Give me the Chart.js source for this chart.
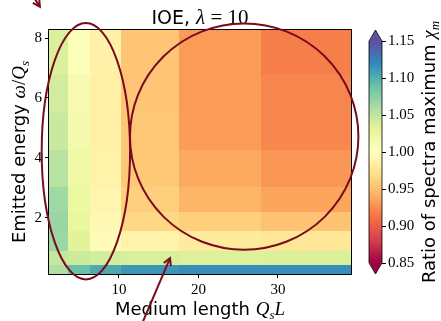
<!DOCTYPE html>
<html>
<head>
<meta charset="utf-8">
<script src="https://cdn.jsdelivr.net/npm/chart.js@4.4.1/dist/chart.umd.min.js"></script>
<style>
    html, body { margin: 0; padding: 0; background: #fff; }
    #wrap { width: 441px; height: 321px; }
</style>
</head>
<body>
<div id="wrap"><canvas id="ioeChart" width="441" height="321"></canvas></div>
<script>
// bin edges: medium length Q_s L (x) and emitted energy omega/Q_s (y)
const lengthEdges = [1.2, 3.6, 6.35, 10.2, 17.5, 27.9, 39.2];
const energyEdges = [0.12, 0.43, 0.88, 1.54, 2.2, 3.04, 4.27, 5.51, 6.77, 8.27];

// ratio of spectra maximum chi_m, one row per energy bin (bottom -> top)
const row1 = [1.058, 1.089, 1.103, 1.113, 1.117, 1.117];
const row2 = [1.047, 1.043, 1.040, 1.037, 1.035, 1.036];
const row3 = [1.066, 1.032, 0.996, 0.988, 0.981, 0.977];
const row4 = [1.068, 1.025, 0.993, 0.965, 0.960, 0.952];
const row5 = [1.065, 1.022, 0.990, 0.960, 0.944, 0.936];
const row6 = [1.054, 1.020, 0.988, 0.956, 0.938, 0.929];
const row7 = [1.045, 1.014, 0.985, 0.955, 0.932, 0.922];
const row8 = [1.041, 1.011, 0.985, 0.954, 0.931, 0.921];
const row9 = [1.036, 1.004, 0.987, 0.954, 0.931, 0.918];
const ratioRows = [row1, row2, row3, row4, row5, row6, row7, row8, row9];

const xTicks = [10, 20, 30];
const yTicks = [2, 4, 6, 8];
const cbarTicks = [0.85, 0.90, 0.95, 1.00, 1.05, 1.10, 1.15];
const cbarMin = 0.85;
const cbarMax = 1.15;

// hand drawn marks on top of the plot (data units)
const leftEllipse = { x: 5.84, y: 4.22, rx: 5.56, ry: 4.28 };
const rightCircle = { x: 25.76, y: 4.71, rx: 14.37, ry: 3.78 };
const topArrow = { from: [-1.3, 9.6], to: [0.05, 9.05] };
const bottomArrow = { from: [12.6, -1.73], to: [16.43, 0.65] };

// matplotlib "Spectral"
const SPECTRAL = ['#9e0142', '#d53e4f', '#f46d43', '#fdae61', '#fee08b', '#ffffbf',
                  '#e6f598', '#abdda4', '#66c2a5', '#3288bd', '#5e4fa2'];
const INK = '#7a0a1e';
const SERIF = '"Liberation Serif", "DejaVu Serif", serif';
const SANS = '"DejaVu Sans", sans-serif';

function hexToRgb(h) {
    return [parseInt(h.slice(1, 3), 16), parseInt(h.slice(3, 5), 16), parseInt(h.slice(5, 7), 16)];
}

function spectral(t) {
    t = Math.max(0, Math.min(1, t));
    const pos = t * (SPECTRAL.length - 1);
    const i = Math.min(Math.floor(pos), SPECTRAL.length - 2);
    const f = pos - i;
    const a = hexToRgb(SPECTRAL[i]);
    const b = hexToRgb(SPECTRAL[i + 1]);
    const c = a.map((v, k) => Math.round(v + (b[k] - v) * f));
    return `rgb(${c[0]},${c[1]},${c[2]})`;
}

// draws a line of text made of several font runs (plain + math)
function drawRuns(ctx, runs, x, y, align) {
    let total = 0;
    runs.forEach(r => {
        ctx.font = r.font;
        r.w = ctx.measureText(r.text).width;
        total += r.w;
    });
    let cx = align === 'center' ? x - total / 2 : x;
    runs.forEach(r => {
        ctx.font = r.font;
        ctx.fillText(r.text, cx, y + (r.dy || 0));
        cx += r.w;
    });
}

function arrowHead(ctx, tip, from, len) {
    const ang = Math.atan2(tip[1] - from[1], tip[0] - from[0]);
    const spread = 0.5;
    ctx.beginPath();
    ctx.moveTo(tip[0] - len * Math.cos(ang - spread), tip[1] - len * Math.sin(ang - spread));
    ctx.lineTo(tip[0], tip[1]);
    ctx.lineTo(tip[0] - len * Math.cos(ang + spread), tip[1] - len * Math.sin(ang + spread));
    ctx.stroke();
}

const heatmapPlugin = {
    id: 'heatmap',
    beforeDatasetsDraw(chart) {
        const { ctx, chartArea: area, scales: { x, y } } = chart;
        ctx.save();
        ratioRows.forEach((row, j) => {
            const yTop = Math.round(y.getPixelForValue(energyEdges[j + 1]));
            const yBot = Math.round(y.getPixelForValue(energyEdges[j]));
            row.forEach((v, i) => {
                const xL = Math.round(x.getPixelForValue(lengthEdges[i]));
                const xR = Math.round(x.getPixelForValue(lengthEdges[i + 1]));
                ctx.fillStyle = spectral((v - cbarMin) / (cbarMax - cbarMin));
                ctx.fillRect(xL, yTop, xR - xL, yBot - yTop);
            });
        });
        // axes frame
        ctx.strokeStyle = '#000';
        ctx.lineWidth = 1;
        ctx.strokeRect(Math.round(area.left) - 0.5, Math.round(area.top) - 0.5,
                       Math.round(area.right - area.left) + 1, Math.round(area.bottom - area.top) + 1);
        ctx.restore();
    },
    afterDraw(chart) {
        const { ctx, chartArea: area, scales: { x, y } } = chart;
        const midX = (area.left + area.right) / 2;
        const midY = (area.top + area.bottom) / 2;
        ctx.save();
        ctx.fillStyle = '#000';
        ctx.textBaseline = 'alphabetic';

        // title
        drawRuns(ctx, [
            { text: 'IOE, ', font: `19px ${SANS}` },
            { text: 'λ', font: `italic 21px ${SERIF}` },
            { text: ' = 10', font: `21px ${SERIF}` }
        ], midX, area.top - 6, 'center');

        // x label
        drawRuns(ctx, [
            { text: 'Medium length ', font: `18px ${SANS}` },
            { text: 'Q', font: `italic 19px ${SERIF}` },
            { text: 's', font: `italic 13px ${SERIF}`, dy: 4 },
            { text: 'L', font: `italic 19px ${SERIF}` }
        ], midX, 315, 'center');

        // y label
        ctx.save();
        ctx.translate(25, midY);
        ctx.rotate(-Math.PI / 2);
        drawRuns(ctx, [
            { text: 'Emitted energy ', font: `18px ${SANS}` },
            { text: 'ω', font: `italic 19px ${SERIF}` },
            { text: '/', font: `19px ${SERIF}` },
            { text: 'Q', font: `italic 19px ${SERIF}` },
            { text: 's', font: `italic 13px ${SERIF}`, dy: 4 }
        ], 0, 0, 'center');
        ctx.restore();

        // colorbar with extend='both'
        const cbL = Math.round(area.right) + 18;
        const cbW = 13;
        const full = area.bottom - area.top;
        const ext = full / 1.1 * 0.05;
        const cbTop = area.top + ext;
        const cbBot = area.bottom - ext;
        const cbY = v => cbBot - (v - cbarMin) / (cbarMax - cbarMin) * (cbBot - cbTop);
        const grad = ctx.createLinearGradient(0, cbBot, 0, cbTop);
        SPECTRAL.forEach((c, i) => grad.addColorStop(i / (SPECTRAL.length - 1), c));
        ctx.fillStyle = grad;
        ctx.fillRect(cbL, cbTop, cbW, cbBot - cbTop);
        ctx.fillStyle = SPECTRAL[SPECTRAL.length - 1];
        ctx.beginPath();
        ctx.moveTo(cbL, cbTop + 0.5); ctx.lineTo(cbL + cbW / 2, area.top); ctx.lineTo(cbL + cbW, cbTop + 0.5);
        ctx.closePath(); ctx.fill();
        ctx.fillStyle = SPECTRAL[0];
        ctx.beginPath();
        ctx.moveTo(cbL, cbBot - 0.5); ctx.lineTo(cbL + cbW / 2, area.bottom); ctx.lineTo(cbL + cbW, cbBot - 0.5);
        ctx.closePath(); ctx.fill();
        ctx.strokeStyle = '#000';
        ctx.lineWidth = 0.8;
        ctx.beginPath();
        ctx.moveTo(cbL, cbTop); ctx.lineTo(cbL + cbW / 2, area.top); ctx.lineTo(cbL + cbW, cbTop);
        ctx.lineTo(cbL + cbW, cbBot); ctx.lineTo(cbL + cbW / 2, area.bottom); ctx.lineTo(cbL, cbBot);
        ctx.closePath(); ctx.stroke();

        ctx.fillStyle = '#000';
        ctx.lineWidth = 1;
        ctx.font = `15px ${SERIF}`;
        ctx.textBaseline = 'middle';
        ctx.textAlign = 'left';
        cbarTicks.forEach(v => {
            const py = Math.round(cbY(v)) + 0.5;
            ctx.beginPath();
            ctx.moveTo(cbL + cbW, py); ctx.lineTo(cbL + cbW + 4, py);
            ctx.stroke();
            ctx.fillText(v.toFixed(2), cbL + cbW + 6, py);
        });
        ctx.textBaseline = 'alphabetic';
        ctx.save();
        ctx.translate(435, midY);
        ctx.rotate(-Math.PI / 2);
        drawRuns(ctx, [
            { text: 'Ratio of spectra maximum ', font: `18px ${SANS}` },
            { text: 'χ', font: `italic 19px ${SERIF}` },
            { text: 'm', font: `italic 13px ${SERIF}`, dy: 4 }
        ], 0, 0, 'center');
        ctx.restore();

        // hand drawn highlights
        ctx.strokeStyle = INK;
        ctx.lineWidth = 2;
        [leftEllipse, rightCircle].forEach(e => {
            const cx = x.getPixelForValue(e.x);
            const cy = y.getPixelForValue(e.y);
            const rx = x.getPixelForValue(e.x + e.rx) - cx;
            const ry = cy - y.getPixelForValue(e.y + e.ry);
            ctx.beginPath();
            ctx.ellipse(cx, cy, rx, ry, 0, 0, Math.PI * 2);
            ctx.stroke();
        });
        [topArrow, bottomArrow].forEach(a => {
            const p0 = [x.getPixelForValue(a.from[0]), y.getPixelForValue(a.from[1])];
            const p1 = [x.getPixelForValue(a.to[0]), y.getPixelForValue(a.to[1])];
            ctx.beginPath();
            ctx.moveTo(p0[0], p0[1]);
            ctx.lineTo(p1[0], p1[1]);
            ctx.stroke();
            arrowHead(ctx, p1, p0, 8);
        });
        ctx.restore();
    }
};

const tickFont = { family: SERIF, size: 15 };

new Chart(document.getElementById('ioeChart'), {
    type: 'scatter',
    data: { datasets: [{ data: [] }] },
    options: {
        responsive: false,
        devicePixelRatio: 1,
        animation: false,
        layout: { padding: { top: 30, right: 90, left: 0, bottom: 0 } },
        plugins: { legend: { display: false }, tooltip: { enabled: false } },
        scales: {
            x: {
                type: 'linear',
                min: lengthEdges[0],
                max: lengthEdges[lengthEdges.length - 1],
                afterBuildTicks: s => { s.ticks = xTicks.map(v => ({ value: v })); },
                afterFit: s => { s.height = 47; },
                grid: { drawOnChartArea: false, tickLength: 4, color: '#000' },
                border: { display: false },
                ticks: { font: tickFont, color: '#000', padding: 3, maxRotation: 0, callback: v => String(v) }
            },
            y: {
                type: 'linear',
                min: energyEdges[0],
                max: energyEdges[energyEdges.length - 1],
                afterBuildTicks: s => { s.ticks = yTicks.map(v => ({ value: v })); },
                afterFit: s => { s.width = 49; },
                grid: { drawOnChartArea: false, tickLength: 4, color: '#000' },
                border: { display: false },
                ticks: { font: tickFont, color: '#000', padding: 3, callback: v => String(v) }
            }
        }
    },
    plugins: [heatmapPlugin]
});
</script>
</body>
</html>
